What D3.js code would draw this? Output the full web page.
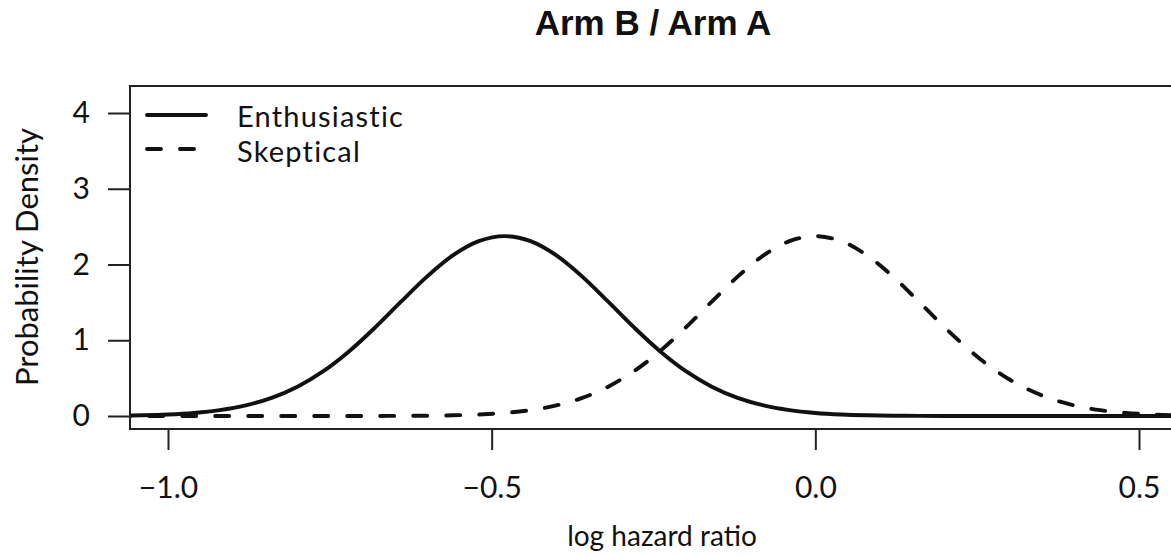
<!DOCTYPE html>
<html>
<head>
<meta charset="utf-8">
<script src="https://cdn.jsdelivr.net/npm/d3@7/dist/d3.min.js"></script>
<style>
  html, body { margin: 0; padding: 0; background: #fff; }
  svg { display: block; }
  text { fill: #111; }
</style>
</head>
<body>
<svg id="chart" width="1171" height="555"></svg>
<script>
// ---- data ----
const title = "Arm B / Arm A";
const xLabel = "log hazard ratio";
const yLabel = "Probability Density";
const seriesNames = ["Enthusiastic", "Skeptical"];
const xTicks = [-1.0, -0.5, 0.0, 0.5];
const xTickLabels = ["\u22121.0", "\u22120.5", "0.0", "0.5"];
const yTicks = [0, 1, 2, 3, 4];
const yTickLabels = ["0", "1", "2", "3", "4"];

const logHR = [-1.08, -1.04, -1.00, -0.96, -0.92, -0.88, -0.84, -0.80, -0.76, -0.72,
               -0.68, -0.64, -0.60, -0.56, -0.52, -0.48, -0.44, -0.40, -0.36, -0.32,
               -0.28, -0.24, -0.20, -0.16, -0.12, -0.08, -0.04, 0.00, 0.04, 0.08,
               0.12, 0.16, 0.20, 0.24, 0.28, 0.32, 0.36, 0.40, 0.44, 0.48, 0.52, 0.56];
const enthusiastic = [0.0040, 0.0092, 0.0197, 0.0401, 0.0769, 0.1395, 0.2391, 0.3871, 0.5921, 0.8560,
                      1.1691, 1.5089, 1.8400, 2.1202, 2.3083, 2.3747, 2.3083, 2.1202, 1.8400, 1.5089,
                      1.1691, 0.8560, 0.5921, 0.3871, 0.2391, 0.1395, 0.0769, 0.0401, 0.0197, 0.0092,
                      0.0040, 0.0017, 0.0007, 0.0002, 0.0001, 0, 0, 0, 0, 0, 0, 0];
const skeptical = [0, 0, 0, 0, 0, 0, 0, 0, 0.0001, 0.0002,
                   0.0007, 0.0017, 0.0040, 0.0092, 0.0197, 0.0401, 0.0769, 0.1395, 0.2391, 0.3871,
                   0.5921, 0.8560, 1.1691, 1.5089, 1.8400, 2.1202, 2.3083, 2.3747, 2.3083, 2.1202,
                   1.8400, 1.5089, 1.1691, 0.8560, 0.5921, 0.3871, 0.2391, 0.1395, 0.0769, 0.0401,
                   0.0197, 0.0092];

// ---- layout ----
const svg = d3.select("#chart");
const box = { left: 130, top: 86, right: 1190, bottom: 429 };
const x = d3.scaleLinear().domain([-1.0, 0.5]).range([168, 1139]);
const y = d3.scaleLinear().domain([0, 4]).range([416, 113]);
const font = "Lato, 'Open Sans', sans-serif";
const ink = "#111";

svg.append("defs").append("clipPath").attr("id", "plotclip")
  .append("rect").attr("x", box.left).attr("y", box.top)
  .attr("width", box.right - box.left).attr("height", box.bottom - box.top);

// title
svg.append("text")
  .attr("x", 653).attr("y", 35)
  .attr("text-anchor", "middle")
  .style("font-family", "'Liberation Sans', Arial, sans-serif")
  .style("font-weight", "bold")
  .style("font-size", "35px")
  .text(title);

// curves
const line = d3.line()
  .x((d) => x(d[0]))
  .y((d) => y(d[1]))
  .curve(d3.curveCatmullRom.alpha(0.5));

const g = svg.append("g").attr("clip-path", "url(#plotclip)");
g.append("path")
  .datum(logHR.map((v, i) => [v, skeptical[i]]))
  .attr("d", line)
  .attr("fill", "none").attr("stroke", ink).attr("stroke-width", 3.9)
  .attr("stroke-linecap", "round")
  .attr("stroke-dasharray", "14,19");
g.append("path")
  .datum(logHR.map((v, i) => [v, enthusiastic[i]]))
  .attr("d", line)
  .attr("fill", "none").attr("stroke", ink).attr("stroke-width", 3.9)
  .attr("stroke-linecap", "round");

// box
svg.append("rect")
  .attr("x", box.left).attr("y", box.top)
  .attr("width", box.right - box.left).attr("height", box.bottom - box.top)
  .attr("fill", "none").attr("stroke", "#222").attr("stroke-width", 2);

// y axis
const yAxis = d3.axisLeft(y).tickValues(yTicks)
  .tickFormat((d, i) => yTickLabels[i]).tickSize(22).tickPadding(18);
const ya = svg.append("g").attr("transform", `translate(${box.left},0)`).call(yAxis);
ya.select(".domain").remove();
ya.selectAll(".tick line").attr("stroke", "#222").attr("stroke-width", 2);
ya.selectAll(".tick text").style("font-family", font).style("font-size", "30px").attr("fill", ink);

// x axis
const xAxis = d3.axisBottom(x).tickValues(xTicks)
  .tickFormat((d, i) => xTickLabels[i]).tickSize(21).tickPadding(27);
const xa = svg.append("g").attr("transform", `translate(0,${box.bottom})`).call(xAxis);
xa.select(".domain").remove();
xa.selectAll(".tick line").attr("stroke", "#222").attr("stroke-width", 2);
xa.selectAll(".tick text").style("font-family", font).style("font-size", "30px").attr("fill", ink);

// axis titles
svg.append("text")
  .attr("x", 662).attr("y", 546)
  .attr("text-anchor", "middle")
  .style("font-family", font).style("font-size", "28px")
  .text(xLabel);
svg.append("text")
  .attr("transform", "translate(38,257) rotate(-90)")
  .attr("text-anchor", "middle")
  .style("font-family", font).style("font-size", "31px")
  .text(yLabel);

// legend
const legend = svg.append("g");
const legendRows = [
  { name: seriesNames[0], dash: null, yy: 115, ty: 127 },
  { name: seriesNames[1], dash: "14,19", yy: 149, ty: 162 }
];
legendRows.forEach((r) => {
  legend.append("line")
    .attr("x1", 147).attr("x2", 206).attr("y1", r.yy).attr("y2", r.yy)
    .attr("stroke", ink).attr("stroke-width", 3.9).attr("stroke-linecap", "round")
    .attr("stroke-dasharray", r.dash);
  legend.append("text")
    .attr("x", 237).attr("y", r.ty)
    .style("font-family", font).style("font-size", "29px")
    .style("letter-spacing", "1.2px")
    .text(r.name);
});
</script>
</body>
</html>
